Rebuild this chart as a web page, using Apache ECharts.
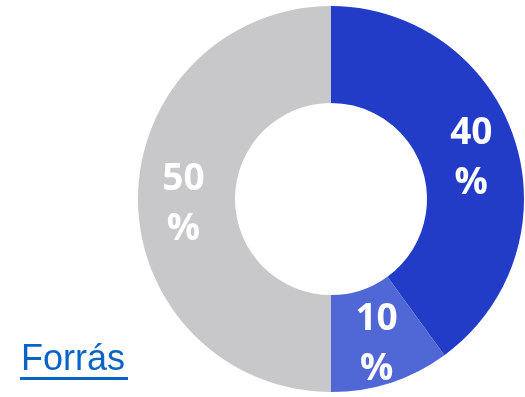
<!DOCTYPE html>
<html>
<head>
<meta charset="utf-8">
<style>
  html, body { margin: 0; padding: 0; background: #ffffff; }
  #chart { width: 525px; height: 397px; }
</style>
<script src="https://cdn.jsdelivr.net/npm/echarts@6/dist/echarts.min.js"></script>
</head>
<body>
<div id="chart"></div>
<script>
// Share of each segment, in percent
const categories = ['A', 'B', 'C'];
const values = [40, 10, 50];
const colors = ['#233cc8', '#5067d6', '#c8c8ca'];
const sourceLabel = 'Forrás';

const chart = echarts.init(document.getElementById('chart'), null, { renderer: 'canvas' });

const data = categories.map((name, i) => ({
  name: name,
  value: values[i],
  itemStyle: { color: colors[i] }
}));

chart.setOption({
  animation: false,
  series: [{
    type: 'pie',
    center: [331, 199],
    radius: [96, 193],
    startAngle: 90,
    clockwise: true,
    avoidLabelOverlap: false,
    itemStyle: { borderWidth: 0 },
    label: {
      show: true,
      position: 'inside',
      formatter: '{c}\n%',
      color: '#ffffff',
      fontFamily: 'Open Sans',
      fontWeight: 'bold',
      fontSize: 37,
      lineHeight: 50,
      align: 'center'
    },
    labelLayout: { dy: 5 },
    labelLine: { show: false },
    emphasis: { disabled: true },
    data: data
  }],
  graphic: [
    {
      type: 'text',
      left: 21,
      top: 342,
      style: {
        text: sourceLabel,
        fill: '#0a64c4',
        font: '36px "Liberation Sans", Arial, sans-serif'
      }
    },
    {
      type: 'rect',
      shape: { x: 20, y: 377, width: 108, height: 3 },
      style: { fill: '#0a64c4' }
    }
  ]
});
</script>
</body>
</html>
